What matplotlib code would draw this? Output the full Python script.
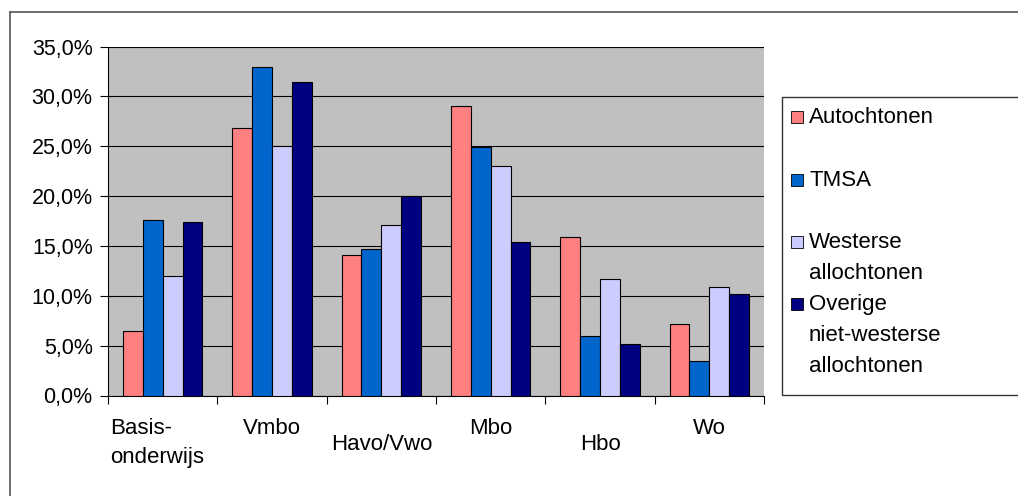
import matplotlib.pyplot as plt
import matplotlib.transforms as mtransforms
from matplotlib.patches import Rectangle
from matplotlib.lines import Line2D
import numpy as np

plt.rcParams['font.family'] = ['Liberation Sans', 'DejaVu Sans']

categories = ["Basis-\nonderwijs", "Vmbo", "Havo/Vwo", "Mbo", "Hbo", "Wo"]
series = ["Autochtonen", "TMSA", "Westerse\nallochtonen",
          "Overige\nniet-westerse\nallochtonen"]
autochtonen = [6.5, 26.8, 14.1, 29.0, 15.9, 7.2]
tmsa = [17.6, 32.9, 14.7, 24.9, 6.0, 3.5]
westers = [12.0, 25.0, 17.1, 23.0, 11.7, 10.9]
overig = [17.4, 31.4, 20.0, 15.4, 5.2, 10.2]
yticks = [0, 5, 10, 15, 20, 25, 30, 35]

colors = ["#FF8080", "#0066CC", "#CCCCFF", "#000080"]
W, H = 1018, 496

fig = plt.figure(figsize=(W / 100, H / 100), dpi=100)


def fx(px):
    return px / W


def fy(py):
    return 1 - py / H


ax = fig.add_axes([fx(108), fy(395.5), fx(764) - fx(108), fy(46.5) - fy(395.5)])
ax.set_facecolor("#C0C0C0")

x = np.arange(len(categories))
w = 0.182
values = [autochtonen, tmsa, westers, overig]
for k, vals in enumerate(values):
    ax.bar(x + (k - 1.5) * w, vals, w, color=colors[k], edgecolor="black",
           linewidth=0.8, zorder=3)

ax.set_xlim(-0.5, len(categories) - 0.5)
ax.set_ylim(0, 35)
ax.set_yticks(yticks)
ax.set_yticklabels([f"{v:.1f}%".replace(".", ",") for v in yticks], fontsize=15.5)
ax.yaxis.grid(True, color="black", linewidth=0.8, zorder=1)
ax.set_axisbelow(True)
ax.tick_params(axis="y", direction="out", length=6, width=0.8, pad=5)

ax.set_xticks(np.arange(len(categories) + 1) - 0.5)
ax.set_xticklabels([])
ax.tick_params(axis="x", direction="out", length=5.5, width=0.8)
for s in ["top", "right"]:
    ax.spines[s].set_visible(False)
for s in ["left", "bottom"]:
    ax.spines[s].set_linewidth(0.8)

# staggered category labels, drawn line by line (block centred, lines left aligned)
renderer = fig.canvas.get_renderer()
trans = mtransforms.blended_transform_factory(ax.transData, fig.transFigure)
rows = [0, 0, 1, 0, 1, 0]
for i, lab in enumerate(categories):
    base = 434 if rows[i] == 0 else 450
    lines = lab.split("\n")
    if len(lines) == 1:
        ax.text(i, fy(base), lab, transform=trans, ha="center", va="baseline",
                fontsize=16)
        continue
    longest = max(lines, key=len)
    probe = ax.text(i, fy(base), longest, transform=trans, ha="center",
                    va="baseline", fontsize=16)
    bb = probe.get_window_extent(renderer)
    probe.remove()
    left_px = bb.x0 - 6
    for j, ln in enumerate(lines):
        fig.text(left_px / W, fy(base + j * 29), ln, ha="left", va="baseline",
                 fontsize=16)

# legend box
fig.patches.append(Rectangle((fx(782), fy(395)), fx(1030) - fx(782), fy(97) - fy(395),
                             transform=fig.transFigure, facecolor="white",
                             edgecolor="#333333", linewidth=1.0))
entry_base = [123, 186, 248, 310]
for k, lab in enumerate(series):
    yb = entry_base[k]
    fig.patches.append(Rectangle((fx(790.5), fy(yb)), fx(12), fy(0) - fy(12),
                                 transform=fig.transFigure, facecolor=colors[k],
                                 edgecolor="black", linewidth=0.6))
    for j, ln in enumerate(lab.split("\n")):
        fig.text(fx(809), fy(yb + j * 31), ln, ha="left", va="baseline",
                 fontsize=16)

# outer chart border (left and top visible)
fig.add_artist(Line2D([fx(9.5), fx(9.5)], [fy(12), 0], transform=fig.transFigure,
                      color="#555555", linewidth=1.2))
fig.add_artist(Line2D([fx(9.5), 1], [fy(12), fy(12)], transform=fig.transFigure,
                      color="#555555", linewidth=1.2))

fig.savefig("out.png", dpi=100)
